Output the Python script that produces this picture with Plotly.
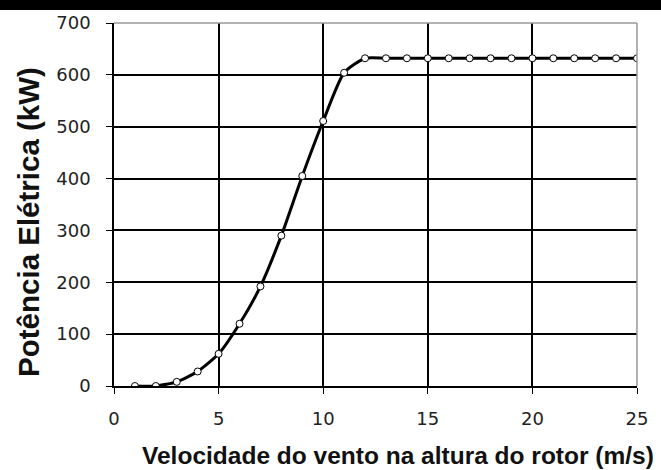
import plotly.graph_objects as go

# --- data ---
velocidade = [1, 2, 3, 4, 5, 6, 7, 8, 9, 10, 11, 12, 13,
              14, 15, 16, 17, 18, 19, 20, 21, 22, 23, 24, 25]
potencia = [0, 0, 8, 28, 62, 120, 192, 290, 405, 511, 604, 632, 632,
            632, 632, 632, 632, 632, 632, 632, 632, 632, 632, 632, 632]

x_ticks = [0, 5, 10, 15, 20, 25]
y_ticks = [0, 100, 200, 300, 400, 500, 600, 700]

W, H = 661, 470
L, R, T, B = 114, 24, 21, 84
pw, ph = W - L - R, H - T - B

fig = go.Figure()

# curve + white markers
fig.add_trace(go.Scatter(
    x=velocidade, y=potencia,
    mode='lines+markers',
    line=dict(color='black', width=3, shape='spline', smoothing=0.6),
    marker=dict(size=7, color='white', line=dict(color='black', width=1)),
    showlegend=False,
    hoverinfo='x+y'
))

tick_font = dict(family='DejaVu Sans', size=18, color='#222')
title_font = 'Liberation Sans, Arial'

fig.update_layout(
    width=W, height=H,
    margin=dict(l=L, r=R, t=T, b=B),
    paper_bgcolor='white',
    plot_bgcolor='white',
    xaxis=dict(
        range=[0, 25], tickvals=x_ticks, showgrid=True,
        gridcolor='black', gridwidth=1.5, zeroline=False,
        showline=True, linecolor='black', linewidth=1.5,
        ticks='outside', ticklen=6, tickcolor='black', tickwidth=1,
        tickfont=tick_font, ticklabelstandoff=10
    ),
    yaxis=dict(
        range=[0, 700], tickvals=y_ticks, showgrid=True,
        gridcolor='black', gridwidth=1.5, zeroline=False,
        showline=True, linecolor='black', linewidth=1.5,
        ticks='outside', ticklen=6, tickcolor='black', tickwidth=1,
        tickfont=tick_font, ticklabelstandoff=12
    ),
    shapes=[
        # black bar across the top of the image
        dict(type='rect', xref='paper', yref='paper',
             x0=-L / pw, x1=(W - L) / pw,
             y0=1 + (T - 8) / ph, y1=1 + T / ph + 0.01,
             fillcolor='black', line=dict(width=0), layer='above'),
        # gray frame top and right
        dict(type='line', xref='paper', yref='paper', x0=0, x1=1, y0=1, y1=1,
             line=dict(color='#999', width=1.5)),
        dict(type='line', xref='paper', yref='paper', x0=1, x1=1, y0=0, y1=1,
             line=dict(color='#999', width=1.5)),
    ],
    annotations=[
        dict(text='<b>Velocidade do vento na altura do rotor (m/s)</b>',
             xref='paper', yref='paper', x=(398 - L) / pw, y=-(456 - T - ph) / ph,
             xanchor='center', yanchor='middle', showarrow=False,
             font=dict(family=title_font, size=24.5, color='#111')),
        dict(text='<b>Potência Elétrica (kW)</b>',
             xref='paper', yref='paper', x=(29 - L) / pw, y=1 - (221 - T) / ph,
             xanchor='center', yanchor='middle', showarrow=False, textangle=-90,
             font=dict(family=title_font, size=29.5, color='#111')),
    ]
)

# page body margin off so the figure sits at the window's top-left corner
fig.write_html("out.html", config={'displayModeBar': False},
               post_script="document.body.style.margin='0';")
